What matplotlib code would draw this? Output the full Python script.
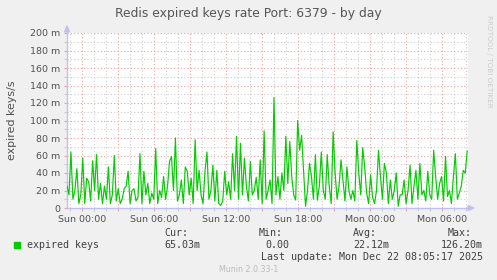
import numpy as np
import matplotlib
matplotlib.use("Agg")
import matplotlib.pyplot as plt
from matplotlib.patches import Rectangle, Polygon
from matplotlib.ticker import MultipleLocator, FuncFormatter

# expired keys rate in milli-keys/s (~10 min steps)
rate_sat_sun = [25, 15, 64, 10, 20, 45, 5, 15, 57, 5, 34, 30, 8, 54, 20, 61, 10,
                28, 5, 25, 10, 47, 5, 15, 60, 8, 22, 5, 10, 22, 25, 42, 5, 20]
rate_sun_am = [22, 8, 12, 62, 5, 42, 15, 28, 5, 17, 10, 68, 5, 20, 12, 36, 10,
               25, 53, 59, 20, 80, 8, 15, 32, 5, 47, 42, 15, 34, 5, 78, 20, 43]
rate_sun_noon = [15, 5, 42, 64, 10, 20, 49, 8, 43, 5, 3, 8, 42, 15, 30, 10, 62,
                 20, 82, 10, 74, 15, 57, 25, 8, 53, 15, 20, 35, 10, 55, 5, 88, 10]
rate_sun_pm = [20, 32, 5, 126.2, 15, 36, 10, 40, 20, 82, 28, 76, 36, 15, 9, 100, 66,
               83, 43, 2, 20, 51, 36, 10, 61, 9, 25, 64, 20, 10, 61, 25, 5, 87]
rate_sun_night = [40, 10, 25, 55, 32, 8, 47, 20, 10, 20, 8, 77, 40, 15, 69, 47, 17,
                  5, 38, 12, 5, 20, 66, 36, 10, 51, 40, 5, 32, 10, 20, 40, 2, 15]
rate_mon_am = [15, 32, 5, 20, 49, 5, 25, 43, 10, 51, 15, 20, 8, 42, 15, 10, 66,
               36, 10, 28, 36, 8, 59, 13, 20, 5, 36, 62, 10, 17, 25, 43, 40, 65.03]

rate = rate_sat_sun + rate_sun_am + rate_sun_noon + rate_sun_pm + rate_sun_night + rate_mon_am

# hours relative to Sun 00:00
t_first = -1.25
t_last = 32.1
x_labels = ["Sun 00:00", "Sun 06:00", "Sun 12:00", "Sun 18:00", "Mon 00:00", "Mon 06:00"]
y_labels = ["0", "20 m", "40 m", "60 m", "80 m", "100 m", "120 m", "140 m", "160 m", "180 m", "200 m"]

stat_names = ["Cur:", "Min:", "Avg:", "Max:"]
stat_values = ["65.03m", "0.00", "22.12m", "126.20m"]

W, H = 497, 280


def fx(px):
    return px / W


def fy(py):
    return 1 - py / H


fig = plt.figure(figsize=(W / 100, H / 100), dpi=100, facecolor="#F0F0F0")
ax = fig.add_axes([fx(67), fy(208), 401 / W, 175 / H], facecolor="white")

t = np.linspace(t_first, t_last, len(rate))
ax.plot(t, rate, color="#00CC00", lw=0.85, zorder=3)

ax.set_xlim(-1.25, (468 - 82) / 12)
ax.set_ylim(0, 200)

ax.xaxis.set_major_locator(MultipleLocator(3))
ax.xaxis.set_minor_locator(MultipleLocator(1))
ax.yaxis.set_major_locator(MultipleLocator(20))
ax.yaxis.set_minor_locator(MultipleLocator(10))


def x_fmt(x, _):
    i = int(round(x / 6))
    if abs(x - 6 * i) < 1e-6 and 0 <= i < len(x_labels):
        return x_labels[i]
    return ""


def y_fmt(y, _):
    i = int(round(y / 20))
    if 0 <= i < len(y_labels):
        return y_labels[i]
    return ""


ax.xaxis.set_major_formatter(FuncFormatter(x_fmt))
ax.yaxis.set_major_formatter(FuncFormatter(y_fmt))

ax.grid(which="major", color="#F2A0A0", ls=(0, (1, 2)), lw=0.8, zorder=1)
ax.grid(which="minor", color="#CCCCCC", ls=(0, (1, 2)), lw=0.8, zorder=1)
ax.set_axisbelow(True)

ax.tick_params(which="major", length=2, width=0.8, color="#F2A0A0", pad=3,
               labelsize=6.8, labelcolor="#505050")
ax.tick_params(which="minor", length=2, width=0.8, color="#CCCCCC")

for s in ["top", "right"]:
    ax.spines[s].set_visible(False)
for s in ["left", "bottom"]:
    ax.spines[s].set_color("#C0C0F0")
    ax.spines[s].set_linewidth(1.0)

# axis arrows
fig.patches.append(Polygon([(fx(64.5), fy(32)), (fx(69.5), fy(32)), (fx(67), fy(26))],
                           closed=True, color="#C0C0F0", transform=fig.transFigure))
fig.patches.append(Polygon([(fx(468), fy(205.5)), (fx(468), fy(210.5)), (fx(474), fy(208))],
                           closed=True, color="#C0C0F0", transform=fig.transFigure))

fig.text(fx(248), fy(14), "Redis expired keys rate Port: 6379 - by day",
         ha="center", va="center", fontsize=8.9, color="#555555")
fig.text(fx(12), fy(120), "expired keys/s", rotation=90, ha="center", va="center",
         fontsize=7.9, color="#505050")
fig.text(fx(489), fy(15), "RRDTOOL / TOBI OETIKER", rotation=270, ha="center", va="top",
         fontsize=5.2, color="#CCCCCC")

# legend block
mono = "DejaVu Sans Mono"
fig.patches.append(Rectangle((fx(14), fy(247.5)), 6 / W, 6 / H, color="#00CC00",
                             transform=fig.transFigure))
fig.text(fx(27), fy(245), "expired keys", family=mono, fontsize=7.2,
         color="#404040", va="center")
for name, xn in zip(stat_names, [164, 259, 353, 448]):
    fig.text(fx(xn), fy(233), name, family=mono, fontsize=7.2, color="#404040", va="center")
for val, xv in zip(stat_values, [164, 265, 353, 441]):
    fig.text(fx(xv), fy(245), val, family=mono, fontsize=7.2, color="#404040", va="center")
fig.text(fx(261), fy(257), "Last update: Mon Dec 22 08:05:17 2025", family=mono,
         fontsize=7.2, color="#404040", va="center")
fig.text(fx(249), fy(269), "Munin 2.0.33-1", ha="center", va="center",
         fontsize=5.7, color="#BBBBBB")

fig.savefig("out.png", dpi=100, facecolor=fig.get_facecolor())
